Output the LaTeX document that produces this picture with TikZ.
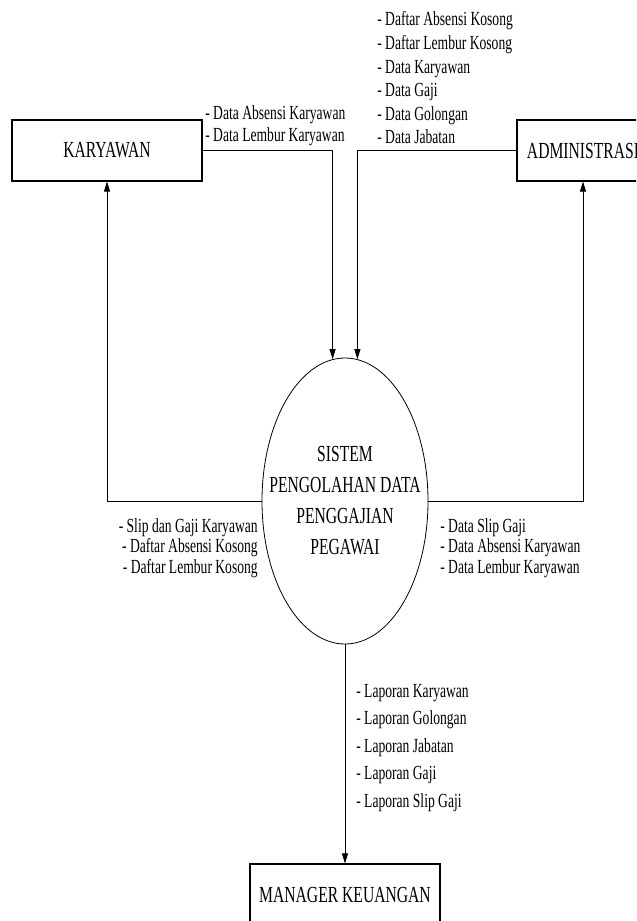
\documentclass[tikz,border=0pt]{standalone}
\usepackage{fontspec}
\setmainfont[FakeStretch=0.68]{Liberation Serif}
\usetikzlibrary{arrows.meta,shapes.geometric}
\begin{document}
\begin{tikzpicture}[x=0.75pt,y=-0.75pt,
  ent/.style={draw, line width=0.8pt, minimum width=142.5pt, minimum height=45.75pt, font=\fontsize{17.25}{23}\selectfont},
  proc/.style={draw, ellipse, line width=0.6pt, minimum width=124.5pt, minimum height=214.5pt, inner sep=0},
  lbl/.style={inner sep=0, align=left},
  flow/.style={line width=0.6pt, -{Triangle[length=7.5pt,width=4.5pt]}}]
\clip (0,0) rectangle (636,921);
\node[ent] (kary) at (107,150.5){KARYAWAN};
\node[ent, minimum width=99pt] (admin) at (583,150.5){ADMINISTRASI};
\node[proc] (proc) at (345,501){};
\node[align=center, inner sep=0, font=\fontsize{17.25}{23.25}\selectfont] (proctxt) at (proc.center){SISTEM\\PENGOLAHAN DATA\\PENGGAJIAN\\PEGAWAI};
\node[ent] (mgr) at (345,894.5){MANAGER KEUANGAN};
% aliran data
\draw[flow](kary.east) -| (proc.95);
\draw[flow](admin.west) -| (proc.85);
\draw[flow](proc.west) -| (kary.south);
\draw[flow](proc.east) -| (admin.south);
\draw[flow](proc.south) -- (mgr.north);
% keterangan
\node[lbl, anchor=west, font=\fontsize{15}{16.5}\selectfont] (lkary) at (205,126){- Data Absensi Karyawan\\- Data Lembur Karyawan};
\node[lbl, anchor=west, font=\fontsize{15}{17.7}\selectfont] (ladmin) at (377,78){- Daftar Absensi Kosong\\- Daftar Lembur Kosong\\- Data Karyawan\\- Data Gaji\\- Data Golongan\\- Data Jabatan};
\node[lbl, anchor=east, align=right, font=\fontsize{15}{15.4}\selectfont] (lslip) at (258,548){- Slip dan Gaji Karyawan\\- Daftar Absensi Kosong\\- Daftar Lembur Kosong};
\node[lbl, anchor=west, font=\fontsize{15}{15.4}\selectfont] (ldata) at (440,548){- Data Slip Gaji\\- Data Absensi Karyawan\\- Data Lembur Karyawan};
\node[lbl, anchor=west, font=\fontsize{15}{20.6}\selectfont] (llap) at (356,748){- Laporan Karyawan\\- Laporan Golongan\\- Laporan Jabatan\\- Laporan Gaji\\- Laporan Slip Gaji};
\end{tikzpicture}
\end{document}
